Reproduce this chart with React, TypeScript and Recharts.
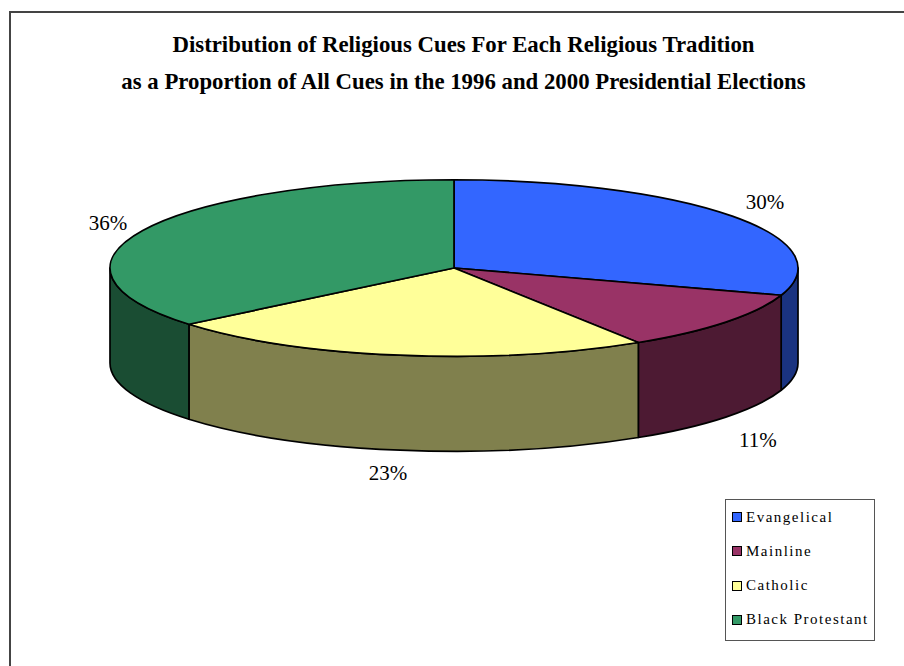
import React from "react";
import { PieChart, Pie, Cell, Legend } from "recharts";

const categories = ["Evangelical", "Mainline", "Catholic", "Black Protestant"];
const shares = [30, 11, 23, 36];
const topColors = ["#3366ff", "#993366", "#ffff99", "#339966"];
const sideColors = ["#1a3380", "#4d1a33", "#80804d", "#1a4d33"];
const titleLines = [
  "Distribution of Religious Cues For Each Religious Tradition",
  "as a Proportion of All Cues in the 1996 and 2000 Presidential Elections",
];

const rows = categories.map((name, i) => ({ name, value: shares[i] }));

const WIDTH = 904;
const HEIGHT = 666;
const SQUASH = 88 / 343; // vertical foreshortening of the tilted disc
const DEPTH = 95; // height of the cylinder wall
const RAD = Math.PI / 180;
const SERIF = "'Liberation Serif', 'Times New Roman', serif";

const rim = (cx: number, cy: number, r: number, deg: number) => ({
  x: cx + r * Math.cos(deg * RAD),
  y: cy - r * SQUASH * Math.sin(deg * RAD),
});

// Draws one slice as a flattened sector plus the visible part of its outer wall.
function Slice3D(props: any) {
  const { cx, cy, outerRadius: r, startAngle, endAngle, index } = props;
  const ry = r * SQUASH;
  const hi = Math.max(startAngle, endAngle);
  const lo = Math.min(startAngle, endAngle);
  const a = rim(cx, cy, r, hi);
  const b = rim(cx, cy, r, lo);
  const large = hi - lo > 180 ? 1 : 0;
  const top = `M${cx},${cy} L${a.x},${a.y} A${r},${ry} 0 ${large} 1 ${b.x},${b.y} Z`;

  // The wall shows only where the rim runs along the front half (angles -180..0).
  const wallHi = Math.min(hi, 0);
  const wallLo = Math.max(lo, -180);
  let wall = "";
  if (wallHi > wallLo) {
    const p = rim(cx, cy, r, wallHi);
    const q = rim(cx, cy, r, wallLo);
    wall =
      `M${p.x},${p.y} A${r},${ry} 0 0 1 ${q.x},${q.y} L${q.x},${q.y + DEPTH} ` +
      `A${r},${ry} 0 0 0 ${p.x},${p.y + DEPTH} Z`;
  }
  return (
    <g>
      {wall && <path d={wall} fill={sideColors[index]} stroke="#000" strokeWidth={1.7} strokeLinejoin="round" />}
      <path d={top} fill={topColors[index]} stroke="#000" strokeWidth={1.7} strokeLinejoin="round" />
    </g>
  );
}

// Percent labels sit just outside the rim, below the wall on the front half.
function PercentLabel(props: any) {
  const { cx, cy, outerRadius: r, midAngle, value } = props;
  const p = rim(cx, cy, r, midAngle);
  const c = Math.cos(midAngle * RAD);
  const s = Math.sin(midAngle * RAD);
  const x = p.x + Math.sign(c) * 37 * Math.pow(Math.abs(c), 0.6);
  const y = s > 0 ? p.y - 40 * s * s : p.y + DEPTH + 23;
  return (
    <text x={x} y={y} textAnchor="middle" dominantBaseline="central" fontFamily={SERIF} fontSize={21} fill="#000">
      {`${value}%`}
    </text>
  );
}

function LegendBox({ payload }: any) {
  return (
    <div
      style={{
        boxSizing: "border-box",
        width: 150,
        height: 142,
        border: "1.5px solid #555",
        background: "#fff",
        padding: "0 0 3px 6px",
        display: "flex",
        flexDirection: "column",
        justifyContent: "space-around",
        fontFamily: SERIF,
        fontSize: 15,
        letterSpacing: 1.5,
        color: "#000",
        whiteSpace: "nowrap",
      }}
    >
      {(payload ?? []).map((entry: any, i: number) => (
        <div key={entry.value} style={{ display: "flex", alignItems: "center", height: 20 }}>
          <span
            style={{
              boxSizing: "border-box",
              width: 10,
              height: 10,
              marginRight: 4,
              background: topColors[i],
              border: "1.5px solid #000",
            }}
          />
          {entry.value}
        </div>
      ))}
    </div>
  );
}

export default function App() {
  return (
    <div style={{ position: "absolute", left: 0, top: 0, width: WIDTH, height: HEIGHT, overflow: "hidden", background: "#fff" }}>
      <div
        style={{
          position: "absolute",
          left: 9,
          top: 11,
          width: WIDTH,
          height: HEIGHT,
          borderLeft: "2px solid #444",
          borderTop: "2px solid #444",
        }}
      />
      <PieChart
        width={WIDTH}
        height={HEIGHT}
        margin={{ top: 0, right: 0, bottom: 0, left: 0 }}
        style={{ position: "absolute", left: 0, top: 0 }}
      >
        {titleLines.map((line, i) => (
          <text
            key={line}
            x={463.5}
            y={44 + i * 37}
            textAnchor="middle"
            dominantBaseline="central"
            fontFamily={SERIF}
            fontWeight="bold"
            fontSize={22.8}
            fill="#000"
          >
            {line}
          </text>
        ))}
        <Pie
          data={rows}
          dataKey="value"
          nameKey="name"
          cx={454}
          cy={268}
          outerRadius={344}
          startAngle={90}
          endAngle={-270}
          stroke="none"
          paddingAngle={0}
          isAnimationActive={false}
          shape={Slice3D}
          label={PercentLabel}
          labelLine={false}
        >
          {rows.map((row, i) => (
            <Cell key={row.name} fill={topColors[i]} />
          ))}
        </Pie>
        <Legend
          layout="vertical"
          align="center"
          verticalAlign="middle"
          itemSorter={null}
          wrapperStyle={{ left: 725, top: 499, width: 150 }}
          content={<LegendBox />}
        />
      </PieChart>
    </div>
  );
}
